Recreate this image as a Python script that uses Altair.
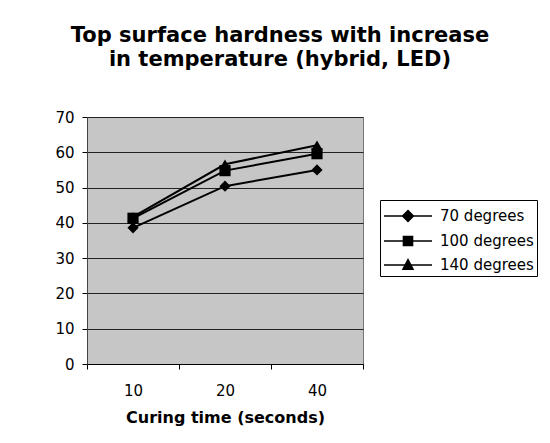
import altair as alt
import pandas as pd

times = ["10", "20", "40"]
series = ["70 degrees", "100 degrees", "140 degrees"]
s70 = [38.6, 50.4, 55.0]
s100 = [41.3, 54.8, 59.6]
s140 = [41.7, 56.6, 62.0]

rows = []
for name, vals in zip(series, [s70, s100, s140]):
    for t, v in zip(times, vals):
        rows.append({"time": t, "series": name, "value": v})
df = pd.DataFrame(rows)

FONT = "DejaVu Sans"

x = alt.X("time:N", sort=times, title="Curing time (seconds)",
          scale=alt.Scale(paddingInner=0, paddingOuter=0),
          axis=alt.Axis(labelAngle=0, tickBand="extent", grid=False,
                        labelFontSize=15, labelFont=FONT, labelColor="black",
                        titleFontSize=16, titleFont=FONT, titleFontWeight="bold",
                        titleColor="black", titlePadding=11, labelPadding=14,
                        domainColor="black", tickColor="black", tickSize=5))
y = alt.Y("value:Q", title=None,
          scale=alt.Scale(domain=[0, 70], nice=False),
          axis=alt.Axis(values=[0, 10, 20, 30, 40, 50, 60, 70], labelFontSize=15,
                        labelFont=FONT, labelColor="black", labelPadding=8,
                        gridColor="#222222", gridWidth=1, gridOpacity=1,
                        domainColor="#444444", tickColor="black", tickSize=5))

base = alt.Chart(df)

lines = base.mark_line(color="black", strokeWidth=2).encode(
    x=x, y=y, detail="series:N")

pts = base.mark_point(filled=True, color="black", opacity=1, size=125).encode(
    x=x, y=y,
    shape=alt.Shape("series:N", sort=series,
                    scale=alt.Scale(domain=series, range=["diamond", "square", "triangle-up"]),
                    legend=None))

leg_paths = [
    "M-1,0L3,0M1,-0.45L1.45,0L1,0.45L0.55,0Z",
    "M-1,0L3,0M0.62,-0.38L1.38,-0.38L1.38,0.38L0.62,0.38Z",
    "M-1,0L3,0M1,-0.45L1.42,0.35L0.58,0.35Z",
]

leg = alt.Legend(title=None, orient="none", legendX=293, legendY=83,
                 symbolSize=576, labelOffset=31,
                 labelFontSize=15, labelFont=FONT, labelColor="black",
                 strokeColor="black", fillColor="white",
                 padding=3, rowPadding=3, symbolStrokeWidth=1.5,
                 symbolFillColor="black", symbolStrokeColor="black")

legend_layer = base.mark_point(filled=True, fill="black", strokeWidth=1.5, opacity=1).encode(
    x=x, y=y,
    shape=alt.Shape("series:N", scale=alt.Scale(domain=series, range=leg_paths), legend=leg),
    stroke=alt.Stroke("series:N", scale=alt.Scale(domain=series, range=["black"] * 3), legend=leg),
).transform_filter("datum.value < 0")

chart = alt.layer(lines, pts, legend_layer).resolve_scale(
    shape="independent", stroke="independent"
).resolve_legend(shape="independent").properties(
    width=276, height=247,
    padding={"left": 87, "top": 117, "right": 187, "bottom": 79},
    autosize=alt.AutoSizeParams(type="none"),
    background="white",
    title=alt.TitleParams(
        text=["Top surface hardness with increase", "in temperature (hybrid, LED)"],
        font=FONT, fontSize=21, fontWeight="bold", color="black",
        anchor="middle", frame="group", dx=55, offset=40, lineHeight=24),
).configure_view(fill="#c6c6c6", stroke="#777777", strokeWidth=1)

chart.save("out.html", embed_options={"renderer": "svg", "actions": False})
